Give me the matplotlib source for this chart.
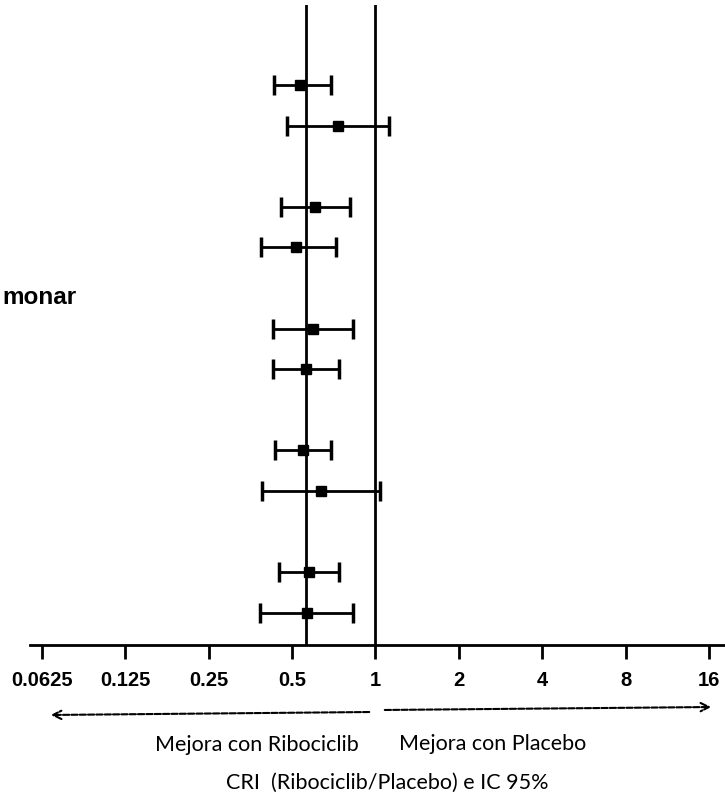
import numpy as np
import matplotlib
matplotlib.use("Agg")
import matplotlib.pyplot as plt

# -------------------------------
# Data (hazard ratios, 95% CI)
# -------------------------------
hr = [0.535, 0.734, 0.603, 0.517, 0.594, 0.561, 0.547, 0.638, 0.575, 0.567]
ci_low = [0.430, 0.478, 0.455, 0.386, 0.426, 0.427, 0.433, 0.390, 0.448, 0.382]
ci_high = [0.692, 1.115, 0.813, 0.720, 0.828, 0.737, 0.691, 1.040, 0.737, 0.833]
overall_hr = 0.56
tick_values = [0.0625, 0.125, 0.25, 0.5, 1, 2, 4, 8, 16]
tick_labels = ["0.0625", "0.125", "0.25", "0.5", "1", "2", "4", "8", "16"]
clipped_label = "monar"

# rows come in pairs, each pair under a (cut off) subgroup header row
n_groups = 5
row_pos = []
for g in range(n_groups):
    row_pos += [g * 3 + 1, g * 3 + 2]
row_pos = np.array(row_pos)

hr = np.array(hr)
err = np.vstack([hr - np.array(ci_low), np.array(ci_high) - hr])

fig = plt.figure(figsize=(7.25, 7.98), dpi=100)
ax = fig.add_axes([30 / 725, 153 / 798, 695 / 725, 640 / 798])

ax.set_xscale("log", base=2)
ax.set_xlim(2 ** -4.14, 2 ** 4.19)
ax.set_ylim(14.79, -0.97)

# reference lines
ax.axvline(1, color="black", lw=2)
ax.axvline(overall_hr, color="black", lw=2)

ax.errorbar(hr, row_pos, xerr=err, fmt="s", color="black", ms=6.5,
            elinewidth=2, capsize=7.5, capthick=2.5, zorder=3)

for s in ["top", "right", "left"]:
    ax.spines[s].set_visible(False)
ax.spines["bottom"].set_linewidth(2)
ax.set_yticks([])
ax.set_xticks(tick_values)
ax.set_xticklabels(tick_labels, fontfamily="Liberation Sans",
                   fontweight="bold", fontsize=14.5)
ax.xaxis.set_minor_locator(matplotlib.ticker.NullLocator())
ax.tick_params(axis="x", direction="out", length=10, width=2, pad=9)

# clipped row label on the left edge
fig.text(2 / 725, 1 - 298 / 798, clipped_label, ha="left", va="center",
         fontfamily="Liberation Sans", fontweight="bold", fontsize=17.5)

# direction arrows
arrow_kw = dict(arrowstyle="->", color="black", lw=1.5, linestyle=(0, (3, 1)),
                mutation_scale=15)
fig.patches.append(matplotlib.patches.FancyArrowPatch(
    (372 / 725, 1 - 712 / 798), (48 / 725, 1 - 715 / 798),
    transform=fig.transFigure, **arrow_kw))
fig.patches.append(matplotlib.patches.FancyArrowPatch(
    (382 / 725, 1 - 710 / 798), (714 / 725, 1 - 707 / 798),
    transform=fig.transFigure, **arrow_kw))

fig.text(257 / 725, 1 - 745 / 798, "Mejora con Ribociclib", ha="center",
         va="center", fontfamily="Lato", fontsize=15.5)
fig.text(493 / 725, 1 - 744 / 798, "Mejora con Placebo", ha="center",
         va="center", fontfamily="Lato", fontsize=15.5)
fig.text(387 / 725, 1 - 783 / 798, "CRI  (Ribociclib/Placebo) e IC 95%",
         ha="center", va="center", fontfamily="Lato", fontsize=15.5)

fig.savefig("out.png", dpi=100)
